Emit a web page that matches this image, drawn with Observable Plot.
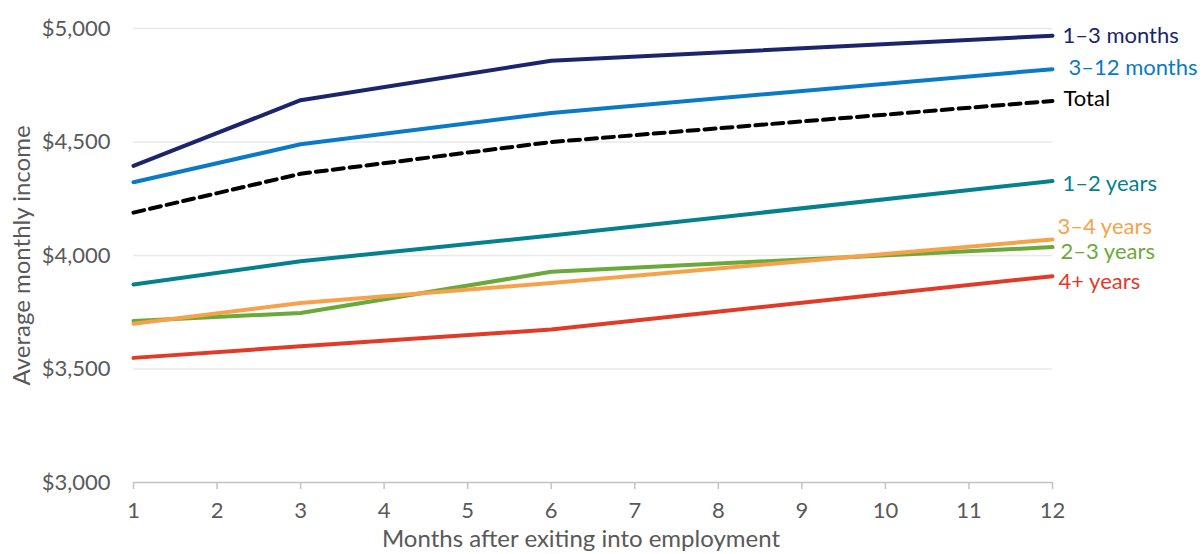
<!DOCTYPE html>
<html><head><meta charset="utf-8">
<script src="https://cdn.jsdelivr.net/npm/d3@7"></script>
<script src="https://cdn.jsdelivr.net/npm/@observablehq/plot@0.6"></script>
<style>body{margin:0;background:#fff}#chart{width:1203px;height:554px}</style>
</head><body><div id="chart"></div>
<script>
const months = [1, 3, 6, 12];
const seriesNames = ["1–3 months", "3–12 months", "Total", "1–2 years", "3–4 years", "2–3 years", "4+ years"];
const v1to3m  = [4395, 4684, 4858, 4968];
const v3to12m = [4323, 4490, 4628, 4821];
const vTotal  = [4189, 4360, 4500, 4681];
const v1to2y  = [3872, 3975, 4088, 4328];
const v3to4y  = [3699, 3791, 3879, 4071];
const v2to3y  = [3711, 3747, 3928, 4037];
const v4plus  = [3549, 3600, 3674, 3909];
const seriesValues = [v1to3m, v3to12m, vTotal, v1to2y, v3to4y, v2to3y, v4plus];
const seriesColors = ["#1a256b", "#0a7ac6", "#000000", "#04808f", "#f6a24a", "#6aa93a", "#e23a29"];
const labelColors  = ["#1a256b", "#0a7ac6", "#000000", "#04808f", "#f6a24a", "#6aa93a", "#e23a29"];
const labelDx = [10, 16, 11, 10, 5, 8, 6];
const labelDy = [0, -1, -2, 3, -12, 5, 6];
const yTicks = [3000, 3500, 4000, 4500, 5000];
const xTicks = [1, 2, 3, 4, 5, 6, 7, 8, 9, 10, 11, 12];
const yTitle = "Average monthly income";
const xTitle = "Months after exiting into employment";

const rows = seriesNames.map((s, i) => months.map((m, j) => ({series: s, month: m, value: seriesValues[i][j]})));
const drawOrder = [0, 1, 3, 5, 4, 6, 2];

const fmt = d => "$" + d3.format(",")(d);

const chart = Plot.plot({
  width: 1203,
  height: 554,
  marginLeft: 133,
  marginRight: 151,
  marginTop: 28,
  marginBottom: 72,
  style: {fontFamily: "Lato, sans-serif", color: "#595959", background: "#fff"},
  x: {domain: [1, 12]},
  y: {domain: [3000, 5000]},
  marks: [
    Plot.gridY(yTicks.filter(d => d > 3000), {stroke: "#e9e9e9", strokeOpacity: 1, strokeWidth: 1.5}),
    Plot.ruleY([3000], {stroke: "#c3c3c3", strokeWidth: 1.5}),
    Plot.axisY(yTicks, {tickSize: 0, tickPadding: 23, tickFormat: fmt, fontSize: 22, label: null}),
    Plot.axisX(xTicks, {tickSize: 7, stroke: "#c3c3c3", strokeWidth: 1.5, tickPadding: 13, fontSize: 22, label: null, fill: "#595959"}),
    ...drawOrder.map(i => Plot.line(rows[i], {
      x: "month", y: "value",
      stroke: seriesColors[i], strokeWidth: 4,
      strokeDasharray: seriesNames[i] === "Total" ? "11,6" : null,
      strokeLinejoin: "round"
    })),
    ...seriesNames.map((s, i) => Plot.text([rows[i][rows[i].length - 1]], {
      x: "month", y: "value", text: "series",
      fill: labelColors[i], fontSize: 22, textAnchor: "start",
      dx: labelDx[i], dy: labelDy[i]
    })),
    Plot.text([yTitle], {frameAnchor: "left", textAnchor: "middle", dx: -111, rotate: -90, fontSize: 24, fill: "#595959"}),
    Plot.text([xTitle], {frameAnchor: "bottom", textAnchor: "middle", dx: -12, dy: 64, fontSize: 24, fill: "#595959"})
  ]
});
document.getElementById("chart").append(chart);
</script>
</body></html>
